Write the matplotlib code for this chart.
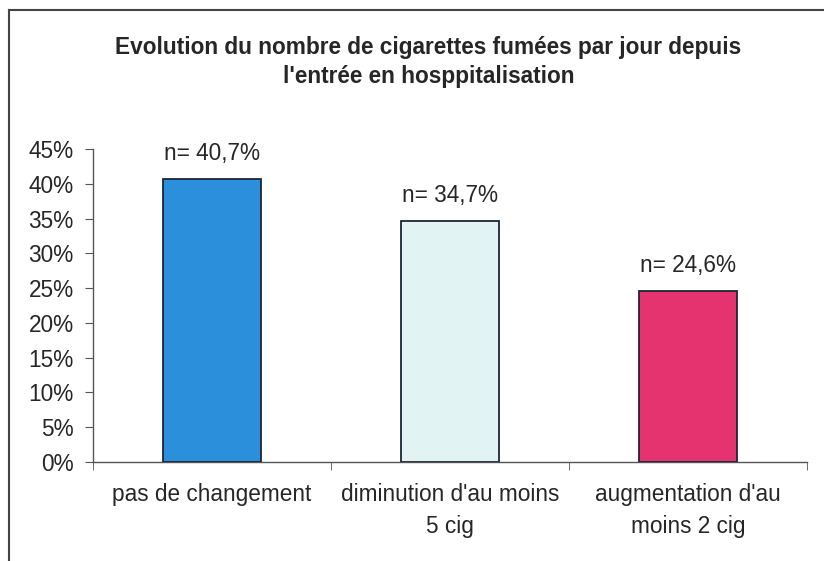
import matplotlib.pyplot as plt
from matplotlib.lines import Line2D
from matplotlib.ticker import FixedLocator

plt.rcParams["font.family"] = ["Liberation Sans", "DejaVu Sans"]

# --- data ---
categories = ["pas de changement", "diminution d'au moins\n5 cig", "augmentation d'au\nmoins 2 cig"]
values = [40.7, 34.7, 24.6]
value_labels = ["n= 40,7%", "n= 34,7%", "n= 24,6%"]
yticks = [0, 5, 10, 15, 20, 25, 30, 35, 40, 45]
bar_colors = ["#2b8fdb", "#e2f3f4", "#e5336f"]
title = "Evolution du nombre de cigarettes fumées par jour depuis\nl'entrée en hosppitalisation"

text_col = "#262626"
fs = 16.3

fig = plt.figure(figsize=(8.24, 5.61), dpi=100)
ax = fig.add_axes([0.113, 0.1765, 0.866, 0.558])

x = range(len(categories))
ax.bar(x, values, width=0.41, color=bar_colors, edgecolor="#1c2633", linewidth=1.3, zorder=3)

for xi, v, lab in zip(x, values, value_labels):
    ax.annotate(lab, (xi, v), xytext=(0, 10), textcoords="offset points",
                ha="center", va="bottom", fontsize=fs, color=text_col)

ax.set_xlim(-0.5, len(categories) - 0.5)
ax.set_ylim(0, 45)
ax.set_yticks(yticks)
ax.set_yticklabels([f"{t}%" for t in yticks], fontsize=fs, color=text_col)
ax.set_xticks(list(x))
ax.set_xticklabels(categories, fontsize=fs, color=text_col, linespacing=1.5)
ax.xaxis.set_minor_locator(FixedLocator([-0.5, 0.5, 1.5, 2.5]))
ax.tick_params(axis="x", which="major", length=0, pad=15)
ax.tick_params(axis="x", which="minor", length=6, direction="out", color="#555555")
ax.tick_params(axis="y", length=6, direction="out", color="#555555", pad=8)

for side in ("top", "right"):
    ax.spines[side].set_visible(False)
for side in ("left", "bottom"):
    ax.spines[side].set_color("#555555")
    ax.spines[side].set_linewidth(1.0)

fig.text(0.52, 0.935, title, ha="center", va="top", fontsize=fs, fontweight="bold",
         color=text_col, linespacing=1.3)

# chart frame
fig.add_artist(Line2D([0.011, 0.011], [0.0, 0.982], transform=fig.transFigure, color="#444444", lw=1.5))
fig.add_artist(Line2D([0.011, 1.0], [0.982, 0.982], transform=fig.transFigure, color="#444444", lw=1.5))

fig.savefig("out.png", dpi=100, facecolor="white")
